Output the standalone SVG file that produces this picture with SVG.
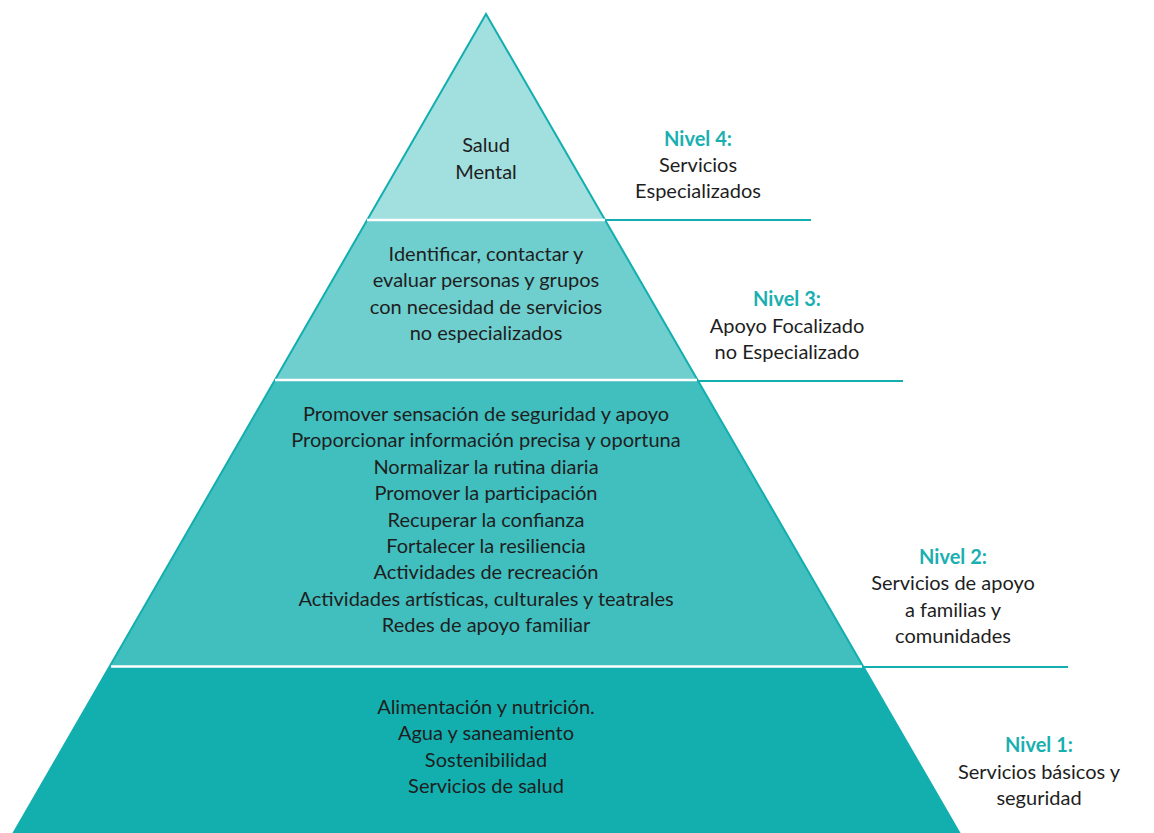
<svg xmlns="http://www.w3.org/2000/svg" width="1154" height="833" viewBox="0 0 1154 833">
<style>
.t{font-family:Lato,"Open Sans","Liberation Sans",sans-serif;font-size:20px;fill:#1e1e1e;text-anchor:middle}
.n{font-family:Lato,"Open Sans","Liberation Sans",sans-serif;font-size:20px;font-weight:bold;fill:#1aafb0;text-anchor:middle}
.sep{stroke:#ffffff;stroke-width:2.5}
.con{stroke:#13aeaf;stroke-width:2;fill:none}
</style>
<rect width="1154" height="833" fill="#ffffff"/>
<g id="nivel4">
<polygon points="486,14 605.5,220 366.5,220" fill="#a2dfdf"/>
<text class="t" x="486" y="152">Salud</text>
<text class="t" x="486" y="179">Mental</text>
</g>
<g id="nivel3">
<polygon points="366.5,220 605.5,220 697.5,380 274.5,380" fill="#6fcece"/>
<text class="t" x="486" y="261">Identificar, contactar y</text>
<text class="t" x="486" y="287">evaluar personas y grupos</text>
<text class="t" x="486" y="314">con necesidad de servicios</text>
<text class="t" x="486" y="340">no especializados</text>
</g>
<g id="nivel2">
<polygon points="274.5,380 697.5,380 863,666.5 110,666.5" fill="#41bebe"/>
<text class="t" x="486" y="421">Promover sensación de seguridad y apoyo</text>
<text class="t" x="486" y="447">Proporcionar información precisa y oportuna</text>
<text class="t" x="486" y="474">Normalizar la rutina diaria</text>
<text class="t" x="486" y="500">Promover la participación</text>
<text class="t" x="486" y="527">Recuperar la confianza</text>
<text class="t" x="486" y="553">Fortalecer la resiliencia</text>
<text class="t" x="486" y="579">Actividades de recreación</text>
<text class="t" x="486" y="606">Actividades artísticas, culturales y teatrales</text>
<text class="t" x="486" y="632">Redes de apoyo familiar</text>
</g>
<g id="nivel1">
<polygon points="110,666.5 863,666.5 960,834 13,834" fill="#13afaf"/>
<text class="t" x="486" y="714">Alimentación y nutrición.</text>
<text class="t" x="486" y="740">Agua y saneamiento</text>
<text class="t" x="486" y="767">Sostenibilidad</text>
<text class="t" x="486" y="793">Servicios de salud</text>
</g>
<g id="outline">
<polyline points="13,834 486,14 960,834" class="con"/>
<line class="sep" x1="367" y1="220" x2="605" y2="220"/>
<line class="sep" x1="275" y1="380" x2="697" y2="380"/>
<line class="sep" x1="111" y1="666.5" x2="862" y2="666.5"/>
</g>
<g id="connectors">
<line class="con" x1="605" y1="220" x2="811" y2="220"/>
<line class="con" x1="697" y1="381" x2="903" y2="381"/>
<line class="con" x1="862" y1="667" x2="1068" y2="667"/>
</g>
<g id="label4">
<text class="n" x="698" y="146">Nivel 4:</text>
<text class="t" x="698" y="172">Servicios</text>
<text class="t" x="698" y="198">Especializados</text>
</g>
<g id="label3">
<text class="n" x="787" y="306">Nivel 3:</text>
<text class="t" x="787" y="333">Apoyo Focalizado</text>
<text class="t" x="787" y="359">no Especializado</text>
</g>
<g id="label2">
<text class="n" x="953" y="564">Nivel 2:</text>
<text class="t" x="953" y="590">Servicios de apoyo</text>
<text class="t" x="953" y="617">a familias y</text>
<text class="t" x="953" y="643">comunidades</text>
</g>
<g id="label1">
<text class="n" x="1039" y="752">Nivel 1:</text>
<text class="t" x="1039" y="779">Servicios básicos y</text>
<text class="t" x="1039" y="805">seguridad</text>
</g>
</svg>
